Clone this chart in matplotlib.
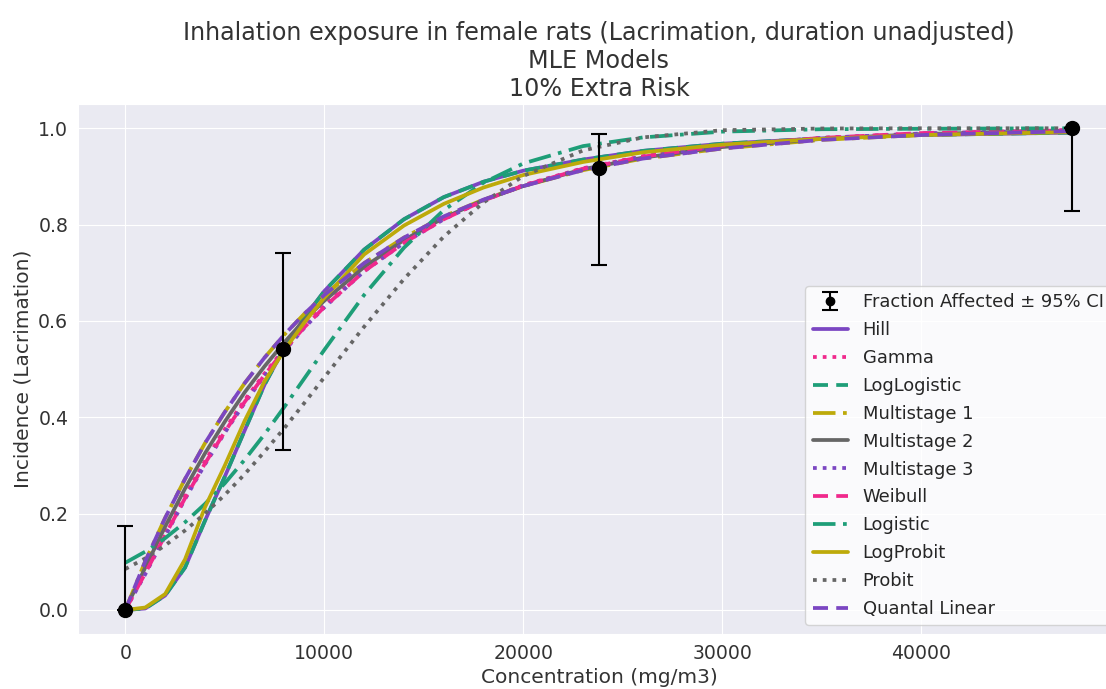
import matplotlib
matplotlib.use('Agg')
import numpy as np
import matplotlib.pyplot as plt
import seaborn as sns

# observed data
doses = [0, 7940, 23800, 47590]
frac_affected = [0.0, 0.542, 0.917, 1.0]
ci_lower = [0.0, 0.333, 0.716, 0.829]
ci_upper = [0.175, 0.740, 0.988, 1.0]

# dose grid the model curves were read at
curve_doses = [0, 1000, 2000, 3000, 4000, 5000, 6000, 7000, 8000, 9000, 10000,
               12000, 14000, 16000, 18000, 20000, 23000, 26000, 30000, 35000,
               40000, 47590]

hill = [0.0, 0.003, 0.030, 0.088, 0.185, 0.277, 0.373, 0.468, 0.545, 0.607,
        0.662, 0.748, 0.811, 0.857, 0.889, 0.912, 0.935, 0.953, 0.968, 0.979,
        0.986, 0.991]
gamma = [0.0, 0.080, 0.160, 0.237, 0.309, 0.375, 0.436, 0.491, 0.543, 0.590,
         0.632, 0.705, 0.764, 0.812, 0.851, 0.882, 0.917, 0.942, 0.964, 0.980,
         0.989, 0.996]
loglogistic = [0.0, 0.003, 0.030, 0.088, 0.185, 0.277, 0.373, 0.468, 0.545,
               0.607, 0.662, 0.748, 0.811, 0.857, 0.889, 0.912, 0.935, 0.953,
               0.968, 0.979, 0.986, 0.991]
multistage1 = [0.0, 0.101, 0.191, 0.272, 0.346, 0.411, 0.471, 0.524, 0.572,
               0.615, 0.654, 0.720, 0.773, 0.817, 0.852, 0.880, 0.913, 0.937,
               0.958, 0.976, 0.986, 0.994]
multistage2 = [0.0, 0.088, 0.173, 0.252, 0.325, 0.391, 0.452, 0.506, 0.556,
               0.602, 0.642, 0.712, 0.768, 0.814, 0.851, 0.880, 0.915, 0.939,
               0.961, 0.978, 0.988, 0.995]
multistage3 = [0.0, 0.074, 0.153, 0.230, 0.302, 0.368, 0.430, 0.486, 0.538,
               0.586, 0.628, 0.703, 0.762, 0.811, 0.850, 0.881, 0.916, 0.941,
               0.964, 0.980, 0.989, 0.996]
weibull = [0.0, 0.076, 0.155, 0.232, 0.304, 0.370, 0.432, 0.488, 0.540, 0.587,
           0.629, 0.703, 0.762, 0.811, 0.850, 0.881, 0.916, 0.941, 0.964, 0.980,
           0.990, 0.996]
logistic = [0.098, 0.121, 0.149, 0.182, 0.220, 0.263, 0.312, 0.365, 0.422,
            0.481, 0.540, 0.654, 0.752, 0.830, 0.887, 0.927, 0.963, 0.981,
            0.993, 0.998, 0.999, 1.0]
logprobit = [0.0, 0.005, 0.033, 0.105, 0.213, 0.300, 0.393, 0.475, 0.540,
             0.597, 0.648, 0.738, 0.798, 0.843, 0.877, 0.903, 0.930, 0.950,
             0.966, 0.978, 0.986, 0.992]
probit = [0.085, 0.107, 0.134, 0.165, 0.200, 0.239, 0.282, 0.329, 0.378,
          0.430, 0.483, 0.588, 0.687, 0.775, 0.846, 0.901, 0.954, 0.981,
          0.996, 0.9995, 1.0, 1.0]
quantal_linear = [0.0, 0.101, 0.191, 0.272, 0.346, 0.411, 0.471, 0.524,
                  0.572, 0.615, 0.654, 0.720, 0.773, 0.817, 0.852, 0.880,
                  0.913, 0.937, 0.958, 0.976, 0.986, 0.994]

model_names = ['Hill', 'Gamma', 'LogLogistic', 'Multistage 1', 'Multistage 2',
               'Multistage 3', 'Weibull', 'Logistic', 'LogProbit', 'Probit',
               'Quantal Linear']
model_values = [hill, gamma, loglogistic, multistage1, multistage2,
                multistage3, weibull, logistic, logprobit, probit,
                quantal_linear]

# colours / line styles cycle through 5 colours and 4 styles
purple = '#7B46C2'
pink = '#F0288C'
green = '#1E9E78'
olive = '#BDAA0A'
gray = '#666666'
model_colors = [purple, pink, green, olive, gray, purple, pink, green, olive,
                gray, purple]
model_styles = ['-', (0, (1, 1.6)), (0, (4, 2.2)), (0, (6, 2, 1, 2)), '-',
                (0, (1, 1.6)), (0, (4, 2.2)), (0, (6, 2, 1, 2)), '-',
                (0, (1, 1.6)), (0, (4, 2.2))]

sns.set_style('darkgrid')
plt.rcParams['font.family'] = ['DejaVu Sans']

fig = plt.figure(figsize=(11.06, 6.89), dpi=100)
ax = fig.add_axes([0.0705, 0.0798, 0.942, 0.769])

handles = []
for name, vals, c, ls in zip(model_names, model_values, model_colors,
                             model_styles):
    ln, = ax.plot(curve_doses, vals, color=c, linestyle=ls, linewidth=2.7,
                  label=name)
    handles.append(ln)

yerr = [np.array(frac_affected) - np.array(ci_lower),
        np.array(ci_upper) - np.array(frac_affected)]
eb = ax.errorbar(doses, frac_affected, yerr=yerr, fmt='o', color='black',
                 markersize=10, capsize=6, elinewidth=1.5, capthick=1.5,
                 zorder=5, label='Fraction Affected \u00b1 95% CI')

ax.tick_params(labelsize=13.6, colors='#333333')
ax.set_xlabel('Concentration (mg/m3)', fontsize=14.5, color='#333333')
ax.set_ylabel('Incidence (Lacrimation)', fontsize=14.5, color='#333333')
ax.set_title('Inhalation exposure in female rats (Lacrimation, duration '
             'unadjusted)\nMLE Models\n10% Extra Risk', fontsize=17.2,
             color='#333333')

leg = ax.legend([eb] + handles, [eb.get_label()] + model_names,
                loc='lower right', fontsize=12.9, markerscale=0.6,
                labelspacing=0.55, frameon=True, facecolor='white',
                framealpha=0.8, edgecolor='#cccccc')

plt.savefig('out.png', dpi=100)
plt.close(fig)
